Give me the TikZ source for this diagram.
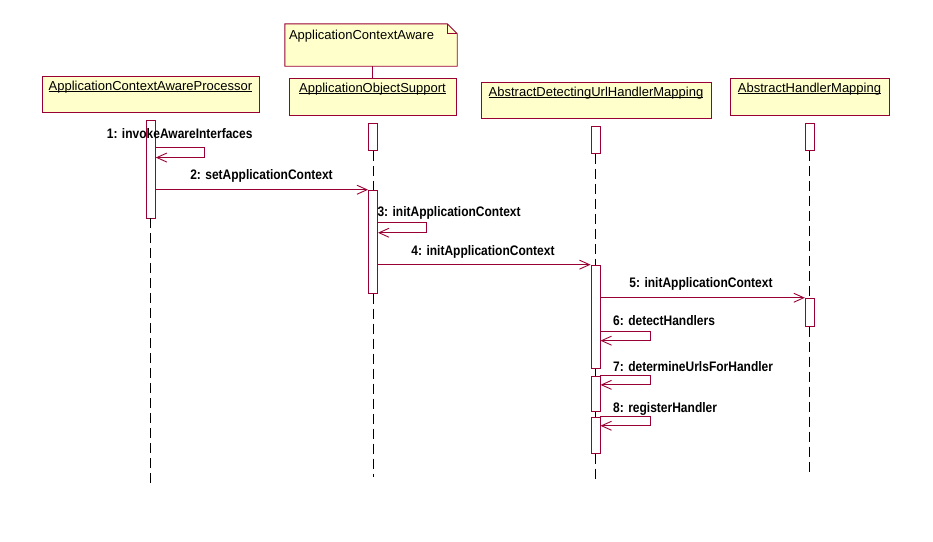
\documentclass[tikz,border=0pt]{standalone}
\usepackage{fontspec}
\usepackage{graphicx}
\setmainfont{Liberation Sans}
\usetikzlibrary{arrows.meta}
\definecolor{umlred}{RGB}{153,0,51}
\definecolor{umlfill}{RGB}{255,255,204}
\newcommand{\myul}[1]{\setbox0=\hbox{#1}\hbox{\copy0\kern-\wd0\rule[-1.6pt]{\wd0}{0.7pt}}}
\newcommand{\tallb}[1]{\scalebox{1}[1.15]{#1}}
\begin{document}
\begin{tikzpicture}[x=1pt,y=-1pt,
 objbox/.style={draw=umlred, fill=umlfill, line width=0.9pt, inner sep=0pt},
 notebox/.style={inner sep=0pt},
 objlbl/.style={anchor=north, inner sep=0pt, font=\fontsize{13}{15}\selectfont},
 act/.style={draw=umlred, fill=white, line width=0.9pt, minimum width=9pt, inner sep=0pt},
 life/.style={black, line width=1pt, dash pattern=on 10pt off 5pt},
 msg/.style={draw=umlred, line width=0.9pt, -{Straight Barb[length=10pt,width=9pt]}},
 mlbl/.style={font=\fontsize{12}{14}\bfseries\selectfont, inner sep=0pt}
]
\useasboundingbox (0,0) rectangle (933,541);

% note
\node[notebox, minimum width=172pt, minimum height=42pt] (note) at (371,45) {};
\draw[umlred, fill=umlfill, line width=0.9pt]
  (note.south west) -- (note.north west) -- ([xshift=-10pt]note.north east)
  -- ([yshift=-10pt]note.north east) -- (note.south east) -- cycle;
\draw[umlred, line width=0.9pt]
  ([xshift=-10pt]note.north east) -- ([xshift=-10pt,yshift=-10pt]note.north east)
  -- ([yshift=-10pt]note.north east);
\node[anchor=north west, inner sep=0pt, font=\fontsize{13}{15}\selectfont] (nt)
  at ([xshift=4pt,yshift=-6pt]note.north west) {ApplicationContextAware};

% objects
\node[objbox, minimum width=217pt, minimum height=36pt] (p1) at (150.5,94) {};
\node[objbox, minimum width=167pt, minimum height=37pt] (p2) at (372.5,96.5) {};
\node[objbox, minimum width=230pt, minimum height=36pt] (p3) at (596,100) {};
\node[objbox, minimum width=159pt, minimum height=37pt] (p4) at (809.5,96.5) {};
\node[objlbl] (t1) at ([yshift=-5pt]p1.north) {\myul{ApplicationContextAwareProcessor}};
\node[objlbl] (t2) at ([yshift=-5pt]p2.north) {\myul{ApplicationObjectSupport}};
\node[objlbl] (t3) at ([yshift=-5pt]p3.north) {\myul{AbstractDetectingUrlHandlerMapping}};
\node[objlbl] (t4) at ([yshift=-5pt]p4.north) {\myul{AbstractHandlerMapping}};

\draw[umlred, line width=0.9pt] (note.south -| p2.north) -- (p2.north);

% activations
\node[act, minimum height=98pt] (a1) at (150.8,169) {};
\node[act, minimum height=27pt] (a2s) at (373,136.8) {};
\node[act, minimum height=103pt] (a2) at (373,241.7) {};
\node[act, minimum height=27pt] (a3s) at (595.5,139.8) {};
\node[act, minimum height=103pt] (a3b) at (595.5,316.6) {};
\node[act, minimum height=35pt] (a3c) at (595.5,393.8) {};
\node[act, minimum height=36pt] (a3d) at (595.5,435.2) {};
\node[act, minimum height=27pt] (a4s) at (809.8,136.8) {};
\node[act, minimum height=28pt] (a4b) at (809.8,312.2) {};

% lifeline ends
\coordinate (e1) at (150.8,483);
\coordinate (e2) at (373,477);
\coordinate (e3) at (595.5,480);
\coordinate (e4) at (809.8,476);

\draw[life] (a1.south) -- (e1);
\draw[life] (a2s.south) -- (a2.north);
\draw[life] (a2.south) -- (e2);
\draw[life] (a3s.south) -- (a3b.north);
\draw[life] (a3b.south) -- (a3c.north);
\draw[life] (a3c.south) -- (a3d.north);
\draw[life] (a3d.south) -- (e3);
\draw[life] (a4s.south) -- (a4b.north);
\draw[life] (a4b.south) -- (e4);

% messages
\draw[msg] ([yshift=-28pt]a1.north east) -- ++(49,0) -- ++(0,10) -- ++(-49,0);
\draw[msg] (a1.east |- a2.north west) -- (a2.north west);
\draw[msg] ([yshift=-33pt]a2.north east) -- ++(48,0) -- ++(0,10) -- ++(-48,0);
\draw[msg] (a2.east |- a3b.north west) -- (a3b.north west);
\draw[msg] (a3b.east |- a4b.north west) -- (a4b.north west);
\draw[msg] ([yshift=-67pt]a3b.north east) -- ++(50,0) -- ++(0,9) -- ++(-50,0);
\draw[msg] (a3c.north east) -- ++(50,0) -- ++(0,9) -- ++(-50,0);
\draw[msg] (a3d.north east) -- ++(50,0) -- ++(0,9) -- ++(-50,0);

% message labels
\node[mlbl] (m1) at (179.7,134) {\tallb{1: invokeAwareInterfaces}};
\node[mlbl] (m2) at (261.5,176) {\tallb{2: setApplicationContext}};
\node[mlbl, anchor=west] (m3) at (377.3,213) {\tallb{3: initApplicationContext}};
\node[mlbl] (m4) at (483,251.7) {\tallb{4: initApplicationContext}};
\node[mlbl] (m5) at (701,284) {\tallb{5: initApplicationContext}};
\node[mlbl, anchor=west] (m6) at (613,321) {\tallb{6: detectHandlers}};
\node[mlbl, anchor=west] (m7) at (613,366.7) {\tallb{7: determineUrlsForHandler}};
\node[mlbl, anchor=west] (m8) at (613,409.3) {\tallb{8: registerHandler}};
\end{tikzpicture}
\end{document}
